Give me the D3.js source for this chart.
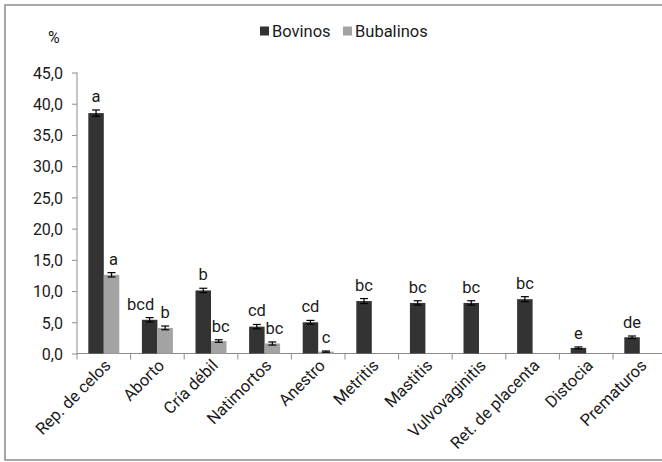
<!DOCTYPE html>
<html><head><meta charset="utf-8">
<script src="https://cdn.jsdelivr.net/npm/d3@7"></script>
<style>
body{margin:0;background:#fff;}
svg text{font-family:"Roboto",sans-serif;fill:#1a1a1a;}
</style></head>
<body><svg id="c" width="662" height="462"></svg>
<script>
const categories = ["Rep. de celos","Aborto","Cría débil","Natimortos","Anestro","Metritis","Mastitis","Vulvovaginitis","Ret. de placenta","Distocia","Prematuros"];
const seriesNames = ["Bovinos","Bubalinos"];
const bovinos = [38.5,5.4,10.1,4.3,5.0,8.4,8.1,8.1,8.7,0.9,2.6];
const bubalinos = [12.6,4.1,2.0,1.6,0.3,null,null,null,null,null,null];
const bovinosErr = [0.5,0.35,0.35,0.35,0.3,0.4,0.35,0.35,0.4,0.15,0.2];
const bubalinosErr = [0.35,0.3,0.2,0.25,0.1,null,null,null,null,null,null];
const bovinosLetters = ["a","bcd","b","cd","cd","bc","bc","bc","bc","e","de"];
const bubalinosLetters = ["a","b","bc","bc","c","","","","","",""];
const yTicks = [0,5,10,15,20,25,30,35,40,45];
const colors = ["#333333","#a3a3a3"];

// small manual nudges of significance letters (pixels), as in the source figure
const letterNudge = {"Aborto|Bovinos": -9, "Cría débil|Bubalinos": 2, "Natimortos|Bubalinos": 2, "Rep. de celos|Bubalinos": 2};

const svg = d3.select("#c");
const axisColor = "#8c8c8c";

svg.append("rect").attr("x",5).attr("y",5).attr("width",720).attr("height",455)
  .attr("fill","none").attr("stroke",axisColor).attr("stroke-width",1.5);

const x0 = 77, y0 = 353.5;
const x = d3.scaleBand().domain(categories).range([x0, x0 + 53.6*categories.length]).paddingInner(0).paddingOuter(0);
const y = d3.scaleLinear().domain([0,45]).range([y0, 72.5]);
const xs = d3.scaleBand().domain(seriesNames).range([0, x.bandwidth()]).paddingInner(0).paddingOuter(0.73);

// y axis
const yAxis = d3.axisLeft(y).tickValues(yTicks).tickSize(5).tickPadding(9)
  .tickFormat(d => d3.format(".1f")(d).replace(".", ","));
const gy = svg.append("g").attr("transform",`translate(${x0},0)`).call(yAxis);
gy.select(".domain").remove();
gy.append("line").attr("x1",0).attr("x2",0).attr("y1",y(45)).attr("y2",y0+6).attr("stroke",axisColor);
gy.selectAll(".tick line").attr("stroke",axisColor);
gy.selectAll(".tick text").style("font-size","16px").attr("dy","0.36em");

// x axis
svg.append("line").attr("x1",x0).attr("x2",x0+53.6*categories.length).attr("y1",y0).attr("y2",y0).attr("stroke",axisColor);
svg.selectAll(".xt").data(categories).join("line").attr("class","xt")
  .attr("x1",d=>x(d)+x.bandwidth()).attr("x2",d=>x(d)+x.bandwidth())
  .attr("y1",y0).attr("y2",y0+6).attr("stroke",axisColor);
svg.selectAll(".xl").data(categories).join("text").attr("class","xl")
  .attr("text-anchor","end")
  .attr("transform",d=>`translate(${x(d)+x.bandwidth()/2+8},${y0+13}) rotate(-45)`)
  .style("font-size","16.5px").text(d=>d);

// bars
const series = [
  {name:"Bovinos", vals:bovinos, err:bovinosErr, let:bovinosLetters, color:colors[0]},
  {name:"Bubalinos", vals:bubalinos, err:bubalinosErr, let:bubalinosLetters, color:colors[1]}
];
series.forEach(s => {
  const data = categories.map((c,i)=>({c, v:s.vals[i], e:s.err[i], l:s.let[i]})).filter(d=>d.v!=null);
  const g = svg.append("g");
  g.selectAll("rect").data(data).join("rect")
    .attr("x",d=>x(d.c)+xs(s.name)).attr("width",xs.bandwidth())
    .attr("y",d=>y(d.v)).attr("height",d=>y0-y(d.v)).attr("fill",s.color);
  const eb = g.selectAll("g.eb").data(data).join("g").attr("class","eb");
  const cx = d=>x(d.c)+xs(s.name)+xs.bandwidth()/2;
  eb.append("line").attr("x1",cx).attr("x2",cx).attr("y1",d=>y(d.v+d.e)).attr("y2",d=>y(d.v-d.e)).attr("stroke","#000").attr("stroke-width",1.2);
  eb.append("line").attr("x1",d=>cx(d)-4).attr("x2",d=>cx(d)+4).attr("y1",d=>y(d.v+d.e)).attr("y2",d=>y(d.v+d.e)).attr("stroke","#000").attr("stroke-width",1.2);
  eb.append("line").attr("x1",d=>cx(d)-4).attr("x2",d=>cx(d)+4).attr("y1",d=>y(d.v-d.e)).attr("y2",d=>y(d.v-d.e)).attr("stroke","#000").attr("stroke-width",1.2);
  g.selectAll("text").data(data).join("text")
    .attr("x",d=>cx(d)+(letterNudge[d.c+"|"+s.name]||0)).attr("y",d=>y(d.v+d.e)-8).attr("text-anchor","middle")
    .style("font-size","16.5px").text(d=>d.l);
});

// legend
const lg = svg.append("g");
const legX = [260, 343];
seriesNames.forEach((n,i)=>{
  lg.append("rect").attr("x",legX[i]).attr("y",26.5).attr("width",9).attr("height",9).attr("fill",colors[i]);
  lg.append("text").attr("x",legX[i]+12).attr("y",36.5).style("font-size","16.5px").text(n);
});
svg.append("text").attr("x",48).attr("y",43).style("font-size","16px").text("%");
</script></body></html>
